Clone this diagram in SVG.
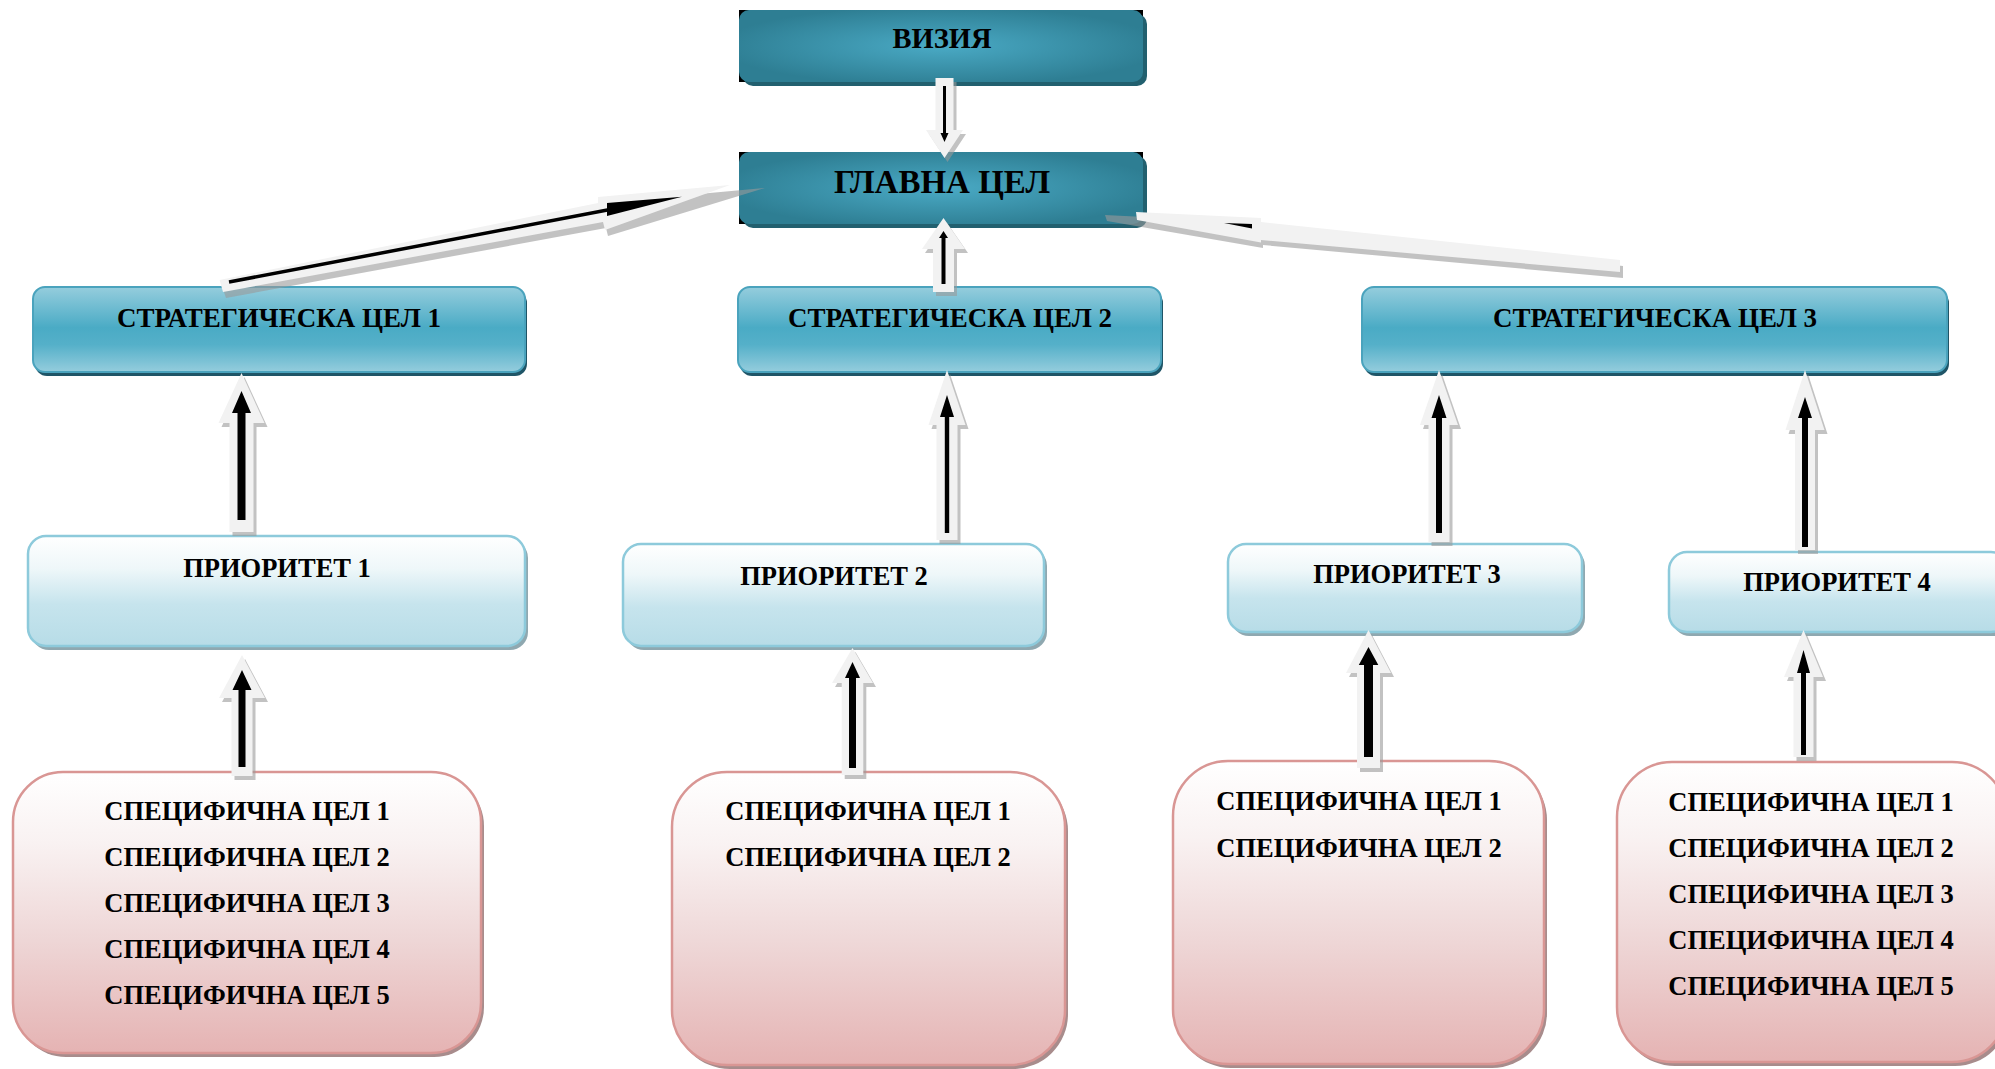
<svg xmlns="http://www.w3.org/2000/svg" width="1995" height="1069" viewBox="0 0 1995 1069">
<defs>
<radialGradient id="gDark" cx="50%" cy="50%" r="55%">
<stop offset="0" stop-color="#4aaac5"/>
<stop offset="1" stop-color="#2e7e93"/>
</radialGradient>
<linearGradient id="gStrat" x1="0" y1="0" x2="0" y2="1">
<stop offset="0" stop-color="#95cddd"/>
<stop offset="0.48" stop-color="#4aabc5"/>
<stop offset="0.68" stop-color="#55b0c9"/>
<stop offset="1" stop-color="#95cddd"/>
</linearGradient>
<linearGradient id="gPrio" x1="0" y1="0" x2="0" y2="1">
<stop offset="0" stop-color="#ffffff"/>
<stop offset="0.3" stop-color="#eef7f9"/>
<stop offset="0.62" stop-color="#c6e4ed"/>
<stop offset="1" stop-color="#b7dce7"/>
</linearGradient>
<linearGradient id="gSpec" x1="0" y1="0" x2="0" y2="1">
<stop offset="0" stop-color="#ffffff"/>
<stop offset="0.25" stop-color="#f9f2f2"/>
<stop offset="0.6" stop-color="#eed6d6"/>
<stop offset="1" stop-color="#e5b3b3"/>
</linearGradient>
</defs>
<style>
.t{font-family:"Liberation Serif","Times New Roman",serif;font-weight:bold;fill:#000;text-anchor:middle}
.s26{font-size:26.5px}
.s27{font-size:27px}
.dark{fill:url(#gDark)}
.darkShd{fill:#22606f}
.strat{fill:url(#gStrat);stroke:#4aa3bd;stroke-width:2}
.stratShd{fill:#1f5567}
.prio{fill:url(#gPrio);stroke:#8dcadb;stroke-width:2.5}
.prioShd{fill:#8fa8b0}
.spec{fill:url(#gSpec);stroke:#d99694;stroke-width:2.5}
.specShd{fill:#a88c8c}
.arw{fill:#f2f2f2}
.shd{fill:#9a9a9a;fill-opacity:0.6}
.blk{fill:#000}
</style>
<rect width="1995" height="1069" fill="#ffffff"/>

<g id="vision">
<rect x="739" y="10" width="404" height="72" fill="#000"/>
<rect x="743" y="14" width="404" height="72" rx="10" class="darkShd"/>
<rect x="739" y="10" width="404" height="72" rx="10" class="dark"/>
<text x="942" y="48" class="t" font-size="28.5">ВИЗИЯ</text>
</g>
<g id="main-goal">
<rect x="739" y="152" width="404" height="72" fill="#000"/>
<rect x="743" y="156" width="404" height="72" rx="10" class="darkShd"/>
<rect x="739" y="152" width="404" height="72" rx="10" class="dark"/>
<text x="942" y="193" class="t" font-size="33">ГЛАВНА ЦЕЛ</text>
</g>

<g id="strat1">
<rect x="35" y="291" width="492" height="85" rx="12" class="stratShd"/>
<rect x="33" y="287" width="492" height="85" rx="12" class="strat"/>
<text x="279" y="327" class="t s27">СТРАТЕГИЧЕСКА ЦЕЛ 1</text>
</g>
<g id="strat2">
<rect x="740" y="291" width="423" height="85" rx="12" class="stratShd"/>
<rect x="738" y="287" width="423" height="85" rx="12" class="strat"/>
<text x="950" y="327" class="t s27">СТРАТЕГИЧЕСКА ЦЕЛ 2</text>
</g>
<g id="strat3">
<rect x="1364" y="291" width="585" height="85" rx="12" class="stratShd"/>
<rect x="1362" y="287" width="585" height="85" rx="12" class="strat"/>
<text x="1655" y="327" class="t s27">СТРАТЕГИЧЕСКА ЦЕЛ 3</text>
</g>

<g id="prio1">
<rect x="31" y="540" width="497" height="110" rx="18" class="prioShd"/>
<rect x="28" y="536" width="497" height="110" rx="18" class="prio"/>
<text x="277" y="577" class="t s26">ПРИОРИТЕТ 1</text>
</g>
<g id="prio2">
<rect x="626" y="548" width="421" height="102" rx="18" class="prioShd"/>
<rect x="623" y="544" width="421" height="102" rx="18" class="prio"/>
<text x="834" y="585" class="t s26">ПРИОРИТЕТ 2</text>
</g>
<g id="prio3">
<rect x="1231" y="548" width="354" height="88" rx="18" class="prioShd"/>
<rect x="1228" y="544" width="354" height="88" rx="18" class="prio"/>
<text x="1407" y="583" class="t s26">ПРИОРИТЕТ 3</text>
</g>
<g id="prio4">
<rect x="1672" y="556" width="340" height="80" rx="18" class="prioShd"/>
<rect x="1669" y="552" width="340" height="80" rx="18" class="prio"/>
<text x="1837" y="591" class="t s26">ПРИОРИТЕТ 4</text>
</g>

<g id="spec1">
<rect x="16" y="776" width="468" height="281" rx="50" class="specShd"/>
<rect x="13" y="772" width="468" height="281" rx="50" class="spec"/>
<text class="t s26"><tspan x="247" y="820">СПЕЦИФИЧНА ЦЕЛ 1</tspan><tspan x="247" y="866">СПЕЦИФИЧНА ЦЕЛ 2</tspan><tspan x="247" y="912">СПЕЦИФИЧНА ЦЕЛ 3</tspan><tspan x="247" y="958">СПЕЦИФИЧНА ЦЕЛ 4</tspan><tspan x="247" y="1004">СПЕЦИФИЧНА ЦЕЛ 5</tspan></text>
</g>
<g id="spec2">
<rect x="675" y="776" width="393" height="293" rx="55" class="specShd"/>
<rect x="672" y="772" width="393" height="293" rx="55" class="spec"/>
<text class="t s26"><tspan x="868" y="820">СПЕЦИФИЧНА ЦЕЛ 1</tspan><tspan x="868" y="866">СПЕЦИФИЧНА ЦЕЛ 2</tspan></text>
</g>
<g id="spec3">
<rect x="1176" y="765" width="371" height="303" rx="55" class="specShd"/>
<rect x="1173" y="761" width="371" height="303" rx="55" class="spec"/>
<text class="t s26"><tspan x="1359" y="810">СПЕЦИФИЧНА ЦЕЛ 1</tspan><tspan x="1359" y="857">СПЕЦИФИЧНА ЦЕЛ 2</tspan></text>
</g>
<g id="spec4">
<rect x="1620" y="766" width="390" height="300" rx="55" class="specShd"/>
<rect x="1617" y="762" width="390" height="300" rx="55" class="spec"/>
<text class="t s26"><tspan x="1811" y="811">СПЕЦИФИЧНА ЦЕЛ 1</tspan><tspan x="1811" y="857">СПЕЦИФИЧНА ЦЕЛ 2</tspan><tspan x="1811" y="903">СПЕЦИФИЧНА ЦЕЛ 3</tspan><tspan x="1811" y="949">СПЕЦИФИЧНА ЦЕЛ 4</tspan><tspan x="1811" y="995">СПЕЦИФИЧНА ЦЕЛ 5</tspan></text>
</g>

<g id="connectors">
<g id="c-vision-main">
<polygon class="shd" points="938.5,82 956.5,82 956.5,134 966,134 947.5,162 929,134 938.5,134"/>
<polygon class="arw" points="935.5,78 953.5,78 953.5,130 963,130 944.5,158 926,130 935.5,130"/>
<polygon class="blk" points="943,86 946,86 946,133 948.5,133 944.5,142 940.5,133 943,133"/>
</g>
<g id="c-strat2-main">
<polygon class="shd" points="936,296 936,253 925,253 946.5,222 968,253 957,253 957,296"/>
<polygon class="arw" points="933,292 933,249 922,249 943.5,218 965,249 954,249 954,292"/>
<polygon class="blk" points="941.5,284 941.5,238 939,238 943.5,231 948,238 945.5,238 945.5,284"/>
</g>
<g id="c-strat1-main">
<polygon class="shd" points="222,286 601,209 601,203 765,188 608,236 606,228 226,298"/>
<polygon class="arw" points="219.6,280 598,203 598,197 730,185 605,230 603,222 223,292"/>
<line x1="229" y1="282" x2="610" y2="209.5" stroke="#000" stroke-width="3.5"/>
<polygon class="blk" points="607,203 682,196.7 607,216"/>
</g>
<g id="c-strat3-main">
<polygon class="shd" points="1623,266 1263,227 1263,223 1105,215 1107,221 1263,248 1263,245 1623,278"/>
<polygon class="arw" points="1620,260 1261,222 1261,218 1136,212 1137,220 1261,242.5 1261,240 1620,272"/>
<polygon class="blk" points="1224,223 1252,224 1252,228.5"/>
</g>
<g id="c-prio1-strat1">
<polygon class="shd" points="232.5,536 232.5,427 221.5,427 244.5,377 267.5,427 256.5,427 256.5,536"/>
<polygon class="arw" points="229.5,532 229.5,423 218.5,423 241.5,373 264.5,423 253.5,423 253.5,532"/>
<polygon class="blk" points="237.5,520 237.5,413 232,413 241.5,391 251,413 245.5,413 245.5,520"/>
</g>
<g id="c-spec1-prio1">
<polygon class="shd" points="234.5,780 234.5,702 222,702 245,659 268,702 255.5,702 255.5,780"/>
<polygon class="arw" points="231.5,776 231.5,698 219,698 242,655 265,698 252.5,698 252.5,776"/>
<polygon class="blk" points="238.5,767 238.5,690 232.5,690 242,670 251.5,690 245.5,690 245.5,767"/>
</g>
<g id="c-prio2-strat2">
<polygon class="shd" points="939.5,544 939.5,429 931.5,429 950,374 968.5,429 960.5,429 960.5,544"/>
<polygon class="arw" points="936.5,540 936.5,425 928.5,425 947,370 965.5,425 957.5,425 957.5,540"/>
<polygon class="blk" points="944.8,533 944.8,417 940,417 947,395 954,417 949.2,417 949.2,533"/>
</g>
<g id="c-spec2-prio2">
<polygon class="shd" points="844.7,779 844.7,687 835,687 855.5,652 876,687 866.3,687 866.3,779"/>
<polygon class="arw" points="841.7,775 841.7,683 832,683 852.5,648 873,683 863.3,683 863.3,775"/>
<polygon class="blk" points="849,768 849,678 845,678 852.5,662 860,678 856,678 856,768"/>
</g>
<g id="c-prio3-strat3">
<polygon class="shd" points="1431.5,546 1431.5,429 1423,429 1442,374 1461,429 1452.5,429 1452.5,546"/>
<polygon class="arw" points="1428.5,542 1428.5,425 1420,425 1439,370 1458,425 1449.5,425 1449.5,542"/>
<polygon class="blk" points="1436,533 1436,418 1431.5,418 1439,395 1446.5,418 1442,418 1442,533"/>
</g>
<g id="c-spec3-prio3">
<polygon class="shd" points="1360,772 1360,677 1349,677 1371.5,634 1394,677 1383,677 1383,772"/>
<polygon class="arw" points="1357,768 1357,673 1346,673 1368.5,630 1391,673 1380,673 1380,768"/>
<polygon class="blk" points="1364,757 1364,665 1358.8,665 1368.5,647 1378.3,665 1373,665 1373,757"/>
</g>
<g id="c-prio4-strat3">
<polygon class="shd" points="1798,554 1798,434 1788.5,434 1808,374 1827.5,434 1818,434 1818,554"/>
<polygon class="arw" points="1795,550 1795,430 1785.5,430 1805,370 1824.5,430 1815,430 1815,550"/>
<polygon class="blk" points="1802,547 1802,418 1798,418 1805,397 1812,418 1808,418 1808,547"/>
</g>
<g id="c-spec4-prio4">
<polygon class="shd" points="1796.5,761 1796.5,681 1787,681 1806.5,634 1826,681 1816.5,681 1816.5,761"/>
<polygon class="arw" points="1793.5,757 1793.5,677 1784,677 1803.5,630 1823,677 1813.5,677 1813.5,757"/>
<polygon class="blk" points="1801,755 1801,673 1797,673 1803.5,650 1810,673 1806,673 1806,755"/>
</g>
</g>
</svg>
